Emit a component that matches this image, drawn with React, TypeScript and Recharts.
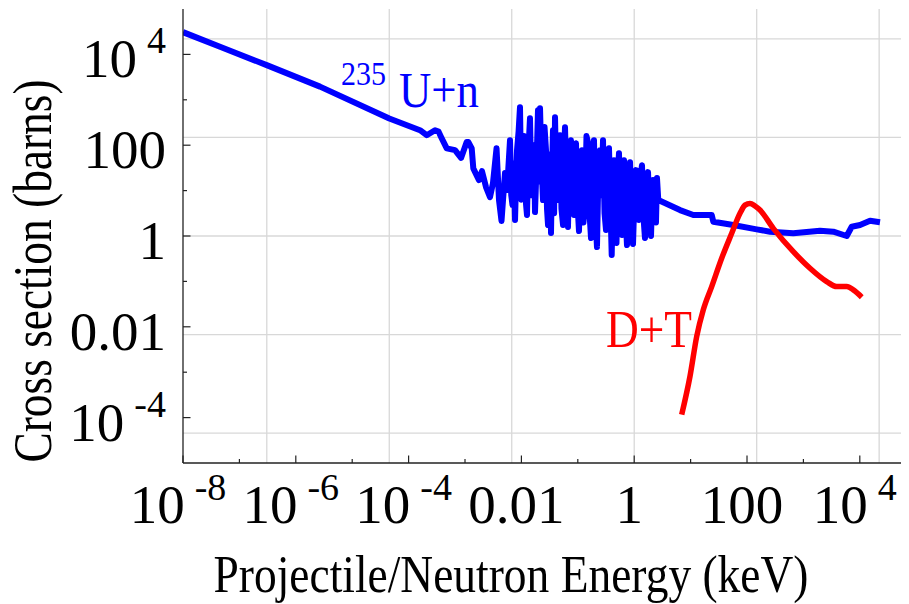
import React from "react";
import { LineChart, Line, XAxis, YAxis, CartesianGrid, ReferenceDot } from "recharts";

const FONT = '"Liberation Serif", "Times New Roman", serif';

const uLogE = [
  -8.0, -7.344, -6.505, -5.571, -4.342, -3.798, -3.679, -3.532, -3.47, -3.42, -3.324, -3.177, -3.07,
  -2.97, -2.94, -2.881, -2.853,
  -2.752, -2.699, -2.628, -2.557, -2.504, -2.441, -2.397, -2.353, -2.291, -2.255,
  -2.202, -2.18, -2.158, -2.135, -2.113, -2.095, -2.078, -2.05, -2.025, -2.0, -1.972, -1.955, -1.936,
  -1.918, -1.901, -1.875, -1.848, -1.82, -1.794, -1.776, -1.759, -1.733, -1.706, -1.688, -1.67, -1.645,
  -1.617, -1.59, -1.564, -1.546, -1.528, -1.5, -1.475, -1.458, -1.44, -1.42, -1.404, -1.378, -1.351,
  -1.333, -1.316, -1.29, -1.262, -1.245, -1.227, -1.2, -1.174, -1.148, -1.121, -1.094, -1.067, -1.05,
  -1.032, -1.005, -0.979, -0.952, -0.926, -0.9, -0.872, -0.846, -0.819, -0.792, -0.766, -0.74, -0.713,
  -0.686, -0.66, -0.633, -0.606, -0.58, -0.553, -0.526, -0.5, -0.474, -0.447, -0.42, -0.399, -0.378,
  -0.358, -0.336, -0.314, -0.292, -0.27, -0.243, -0.216, -0.198, -0.181, -0.155, -0.128, -0.1, -0.074,
  -0.048, -0.021, 0.005, 0.032, 0.058, 0.085, 0.11, 0.138, 0.165, 0.191, 0.218, 0.245, 0.27, 0.298,
  0.316, 0.333, 0.35, 0.369, 0.386, 0.404, 0.427,
  0.812, 1.048, 1.374, 1.403, 1.757, 2.172, 2.408, 2.821, 3.294, 3.53, 3.768, 3.856, 4.004, 4.181, 4.358,
];
const uLogS = [
  4.49, 4.17, 3.758, 3.29, 2.587, 2.33, 2.22, 2.33, 2.3, 2.17, 1.93, 1.89, 1.72,
  2.073, 2.07, 1.93, 1.49,
  1.231, 1.429, 1.077, 0.857, 1.165, 1.934, 0.791, 0.33, 1.385, 1.011,
  2.11, 0.9, 0.681, 1.6, 0.352, 1.2, 1.89, 2.3, 2.835, 0.8, 1.011, 2.2, 1.67,
  0.7, 0.462, 1.9, 2.593, 0.9, 1.231, 2.0, 0.527, 1.5, 2.769, 1.2, 2.813, 1.6,
  0.791, 2.4, 1.89, 0.6, 0.242, 1.8, 0.066, 1.4, 2.33, 0.5, 2.615, 1.0, 0.791,
  2.0, 2.22, 0.6, 0.242, 1.7, 2.396, 1.1, 0.198, 1.8, 2.11, 0.8, 0.462, 1.9,
  2.044, 0.7, 0.11, 1.4, 1.89, 0.3, 0.681, 2.2, 2.066, 0.5, -0.044, 1.6, 2.11,
  0.4, -0.242, 1.5, 1.89, 0.9, 2.11, 0.5, 0.132, 1.6, 1.934, 0.6, -0.418, 0.9,
  1.67, 0.2, -0.154, 1.3, 1.824, 0.4, 0.022, 1.2, 1.67, 0.5, -0.198, 1.0, 1.626,
  0.3, -0.176, 0.9, 1.451, 0.6, 0.352, 1.3, 1.56, 0.4, -0.044, 1.1, 1.407, 0.5, 0.0,
  0.8, 1.231, 0.6, 1.011, 0.3, 1.275, 0.791,
  0.571, 0.462, 0.462, 0.314, 0.242, 0.147, 0.095, 0.059, 0.116, 0.095, 0.0, 0.204, 0.242, 0.336, 0.301,
];

// D + T
const dtLogE = [0.842, 0.989, 1.108, 1.225, 1.374, 1.551, 1.729, 1.876, 1.965, 2.053, 2.142, 2.23, 2.466, 2.821, 3.117, 3.413, 3.59, 3.768, 3.885, 4.034];
const dtLogS = [-3.934, -3.092, -2.213, -1.626, -1.114, -0.49, 0.059, 0.499, 0.68, 0.718, 0.66, 0.571, 0.169, -0.345, -0.71, -1.004, -1.114, -1.114, -1.187, -1.347];

const xTicks = [1e-8, 1e-7, 1e-6, 1e-5, 1e-4, 1e-3, 0.01, 0.1, 1, 10, 100, 1e3, 1e4];
const xTickLabels = ["10^-8", "", "10^-6", "", "10^-4", "", "0.01", "", "1", "", "100", "", "10^4"];
const yTicks = [1e-4, 1e-3, 0.01, 0.1, 1, 10, 100, 1e3, 1e4];
const yTickLabels = ["10^-4", "", "0.01", "", "1", "", "100", "", "10^4"];

// frame ticks on top/right and the grid sit on whole natural-log units
const topLn = [-18, -17, -16, -15, -14, -13, -12, -11, -10, -9, -8, -7, -6, -5, -4, -3, -2, -1, 0, 1, 2, 3, 4, 5, 6, 7, 8, 9, 10, 11];
const rightLn = [-11, -10, -9, -8, -7, -6, -5, -4, -3, -2, -1, 0, 1, 2, 3, 4, 5, 6, 7, 8, 9, 10, 11];
const gridLnX = [-15, -10, -5, 0, 5, 10];
const gridLnY = [-10, -5, 0, 5, 10];

const X_DOMAIN = [1e-8, 7.45e4];
const Y_DOMAIN = [1e-5, 1e5];

const uRows = uLogE.map((v, i) => ({ e: 10 ** v, s: 10 ** uLogS[i] }));
const dtRows = dtLogE.map((v, i) => ({ e: 10 ** v, s: 10 ** dtLogS[i] }));

const labelFor = (ticks: number[], labels: string[], v: number) => {
  const i = ticks.findIndex((t) => Math.abs(Math.log10(t) - Math.log10(v)) < 1e-6);
  return i < 0 ? "" : labels[i];
};

function PowerText({ x, y, label, anchor, supDy }: any) {
  const [base, sup] = label.split("^");
  return (
    <text x={x} y={y} textAnchor={anchor} fontFamily={FONT} fontSize={55} fill="#000">
      {base}
      {sup !== undefined && (
        <tspan dx={10} dy={supDy} fontSize={38}>
          {sup}
        </tspan>
      )}
    </text>
  );
}

const BottomTick = ({ x, y, payload }: any) => {
  const label = labelFor(xTicks, xTickLabels, payload.value);
  return (
    <g>
      <line x1={x} x2={x} y1={y} y2={y - (label ? 7.5 : 4)} stroke="#222" strokeWidth={1.2} />
      {label && <PowerText x={x - 5} y={y + 60} label={label} anchor="middle" supDy={-23} />}
    </g>
  );
};

const LeftTick = ({ x, y, payload }: any) => {
  const label = labelFor(yTicks, yTickLabels, payload.value);
  return (
    <g>
      <line x1={x} x2={x + (label ? 7.5 : 4)} y1={y} y2={y} stroke="#222" strokeWidth={1.2} />
      {label && <PowerText x={x - 17} y={y + 23} label={label} anchor="end" supDy={-24} />}
    </g>
  );
};

const TopTick = ({ x, y, payload }: any) => {
  const k = Math.round(Math.log(payload.value));
  return <line x1={x} x2={x} y1={y} y2={y + (k % 5 === 0 ? 8 : 5)} stroke="#333" strokeWidth={1.2} />;
};

const RightTick = ({ x, y, payload }: any) => {
  const k = Math.round(Math.log(payload.value));
  return <line x1={x} x2={x - (k % 5 === 0 ? 8 : 5)} y1={y} y2={y} stroke="#333" strokeWidth={1.2} />;
};

export default function App() {
  return (
    <LineChart width={901} height={596} margin={{ top: 1, right: 0, bottom: 0, left: 0 }} style={{ overflow: "visible" }}>
      <CartesianGrid
        xAxisId="b"
        yAxisId="l"
        stroke="#d8d8d8"
        strokeWidth={1.3}
        verticalValues={gridLnX.map((k) => Math.exp(k))}
        horizontalValues={gridLnY.map((k) => Math.exp(k))}
      />
      <XAxis
        xAxisId="b"
        dataKey="e"
        type="number"
        scale="log"
        domain={X_DOMAIN}
        allowDataOverflow
        ticks={xTicks}
        interval={0}
        height={141}
        tickSize={0}
        tickMargin={0}
        tickLine={false}
        axisLine={{ stroke: "#222", strokeWidth: 1.3 }}
        tick={(p: any) => <BottomTick {...p} />}
        label={{
          content: ({ viewBox }: any) => (
            <text
              x={viewBox.x + viewBox.width / 2 - 35}
              y={viewBox.y + 129}
              textAnchor="middle"
              fontFamily={FONT}
              fontSize={53}
              textLength={595}
              lengthAdjust="spacingAndGlyphs"
              fill="#000"
            >
              Projectile/Neutron Energy (keV)
            </text>
          ),
        }}
      />
      <XAxis
        xAxisId="t"
        orientation="top"
        dataKey="e"
        type="number"
        scale="log"
        domain={X_DOMAIN}
        allowDataOverflow
        ticks={topLn.map((k) => Math.exp(k))}
        interval={0}
        height={0}
        tickSize={0}
        tickMargin={0}
        tickLine={false}
        axisLine={{ stroke: "#555", strokeWidth: 1.3 }}
        tick={(p: any) => <TopTick {...p} />}
      />
      <YAxis
        yAxisId="l"
        type="number"
        scale="log"
        domain={Y_DOMAIN}
        allowDataOverflow
        ticks={yTicks}
        interval={0}
        width={175}
        tickSize={0}
        tickMargin={0}
        tickLine={false}
        axisLine={{ stroke: "#222", strokeWidth: 1.3 }}
        tick={(p: any) => <LeftTick {...p} />}
        label={{
          content: ({ viewBox }: any) => {
            const cx = 43;
            const cy = viewBox.y + viewBox.height / 2 + 35;
            return (
              <text
                x={cx}
                y={cy}
                transform={`rotate(-90, ${cx}, ${cy})`}
                textAnchor="middle"
                fontFamily={FONT}
                fontSize={54}
                textLength={383}
                lengthAdjust="spacingAndGlyphs"
                fill="#000"
              >
                Cross section (barns)
              </text>
            );
          },
        }}
      />
      <YAxis
        yAxisId="r"
        orientation="right"
        type="number"
        scale="log"
        domain={Y_DOMAIN}
        allowDataOverflow
        ticks={rightLn.map((k) => Math.exp(k))}
        interval={0}
        width={0}
        tickSize={0}
        tickMargin={0}
        tickLine={false}
        axisLine={{ stroke: "#555", strokeWidth: 1.3 }}
        tick={(p: any) => <RightTick {...p} />}
      />
      <Line
        xAxisId="b"
        yAxisId="l"
        data={uRows}
        dataKey="s"
        type="linear"
        stroke="#0000ff"
        strokeWidth={6}
        strokeLinejoin="round"
        dot={false}
        isAnimationActive={false}
      />
      <Line
        xAxisId="b"
        yAxisId="l"
        data={dtRows}
        dataKey="s"
        type="monotone"
        stroke="#ff0000"
        strokeWidth={5.5}
        dot={false}
        isAnimationActive={false}
      />
      <ReferenceDot
        xAxisId="b"
        yAxisId="l"
        x={6.76e-5}
        y={705}
        r={0}
        shape={(p: any) => (
          <g>
            <text x={p.cx - 58} y={p.cy - 22} fontFamily={FONT} fontSize={34} textLength={45} lengthAdjust="spacingAndGlyphs" fill="#0000ff">
              235
            </text>
            <text x={p.cx} y={p.cy} fontFamily={FONT} fontSize={50} textLength={80} lengthAdjust="spacingAndGlyphs" fill="#0000ff">
              U+n
            </text>
          </g>
        )}
      />
      <ReferenceDot
        xAxisId="b"
        yAxisId="l"
        x={0.316}
        y={3.65e-3}
        r={0}
        shape={(p: any) => (
          <text x={p.cx} y={p.cy} fontFamily={FONT} fontSize={52} textLength={86} lengthAdjust="spacingAndGlyphs" fill="#ff0000">
            D+T
          </text>
        )}
      />
    </LineChart>
  );
}
